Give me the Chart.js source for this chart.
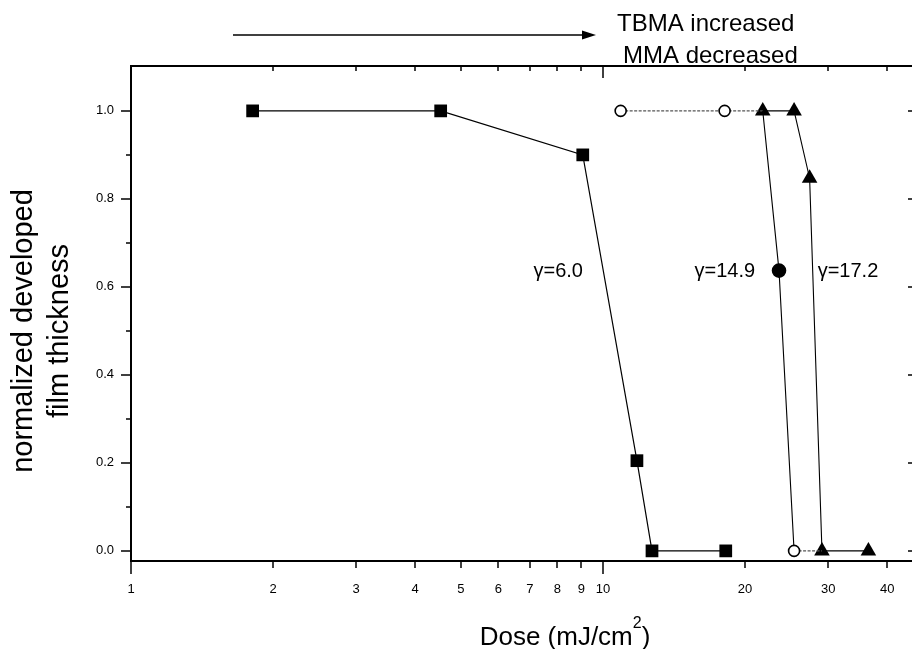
<!DOCTYPE html>
<html>
<head>
<meta charset="utf-8">
<script src="https://cdn.jsdelivr.net/npm/chart.js@4.4.1/dist/chart.umd.min.js"></script>
<style>
html, body { margin: 0; padding: 0; background: #fff; overflow: hidden; }
canvas { display: block; }
</style>
</head>
<body>
<canvas id="doseChart" width="912" height="649"></canvas>
<script>
// tick positions
const doseTicks = [1, 2, 3, 4, 5, 6, 7, 8, 9, 10, 20, 30, 40];
const thickTicks = [0, 0.2, 0.4, 0.6, 0.8, 1.0];
const thickMinor = [0.1, 0.3, 0.5, 0.7, 0.9];

// gamma = 6.0 (squares)
const sqDose = [1.81, 4.53, 9.06, 11.8, 12.7, 18.2];
const sqThick = [1.0, 1.0, 0.90, 0.205, 0.0, 0.0];

// gamma = 14.9 (circles)
const circDose = [10.9, 18.1, 21.8, 23.6, 25.4, 29.1];
const circThick = [1.0, 1.0, 1.0, 0.637, 0.0, 0.0];

// gamma = 17.2 (triangles)
const triDose = [21.8, 25.4, 27.4, 29.1, 36.5];
const triThick = [1.0, 1.0, 0.847, 0.0, 0.0];

const FONT = "'Liberation Sans', Arial, sans-serif";

function toPoints(xs, ys) {
    return xs.map((v, i) => ({ x: v, y: ys[i] }));
}

function line(ctx, x1, y1, x2, y2) {
    ctx.beginPath();
    ctx.moveTo(x1, y1);
    ctx.lineTo(x2, y2);
    ctx.stroke();
}

// axis frame with inside/outside ticks (right frame edge is off the picture)
const framePlugin = {
    id: 'frame',
    afterDraw(chart) {
        const { ctx, chartArea: a, scales: { x, y } } = chart;
        ctx.save();
        ctx.strokeStyle = '#000';
        ctx.lineWidth = 2;
        line(ctx, a.left, a.top, a.right + 2, a.top);
        line(ctx, a.left, a.bottom, a.right + 2, a.bottom);
        line(ctx, a.left, a.top - 1, a.left, a.bottom + 1);
        ctx.lineWidth = 1.5;
        doseTicks.forEach(v => {
            const px = Math.round(x.getPixelForValue(v));
            const big = v === 1 || v === 10;
            line(ctx, px, a.bottom, px, a.bottom + (big ? 13 : 7));
            line(ctx, px, a.top, px, a.top + (big ? 12 : 5));
        });
        thickTicks.forEach(v => {
            const py = Math.round(y.getPixelForValue(v));
            line(ctx, a.left - 10, py, a.left, py);
            line(ctx, a.right - 4, py, a.right, py);
        });
        thickMinor.forEach(v => {
            const py = Math.round(y.getPixelForValue(v));
            line(ctx, a.left - 5, py, a.left, py);
        });
        ctx.restore();
    }
};

// titles, gamma labels and arrow
const textPlugin = {
    id: 'texts',
    afterDraw(chart) {
        const { ctx, scales: { x, y } } = chart;
        ctx.save();
        ctx.fillStyle = '#000';
        ctx.strokeStyle = '#000';
        ctx.textBaseline = 'alphabetic';

        ctx.font = '20px ' + FONT;
        const gy = y.getPixelForValue(0.623);
        ctx.textAlign = 'right';
        ctx.fillText('\u03b3=6.0', x.getPixelForValue(9.07), gy);
        ctx.fillText('\u03b3=14.9', x.getPixelForValue(21.0), gy);
        ctx.textAlign = 'left';
        ctx.fillText('\u03b3=17.2', x.getPixelForValue(28.5), gy);

        // top note
        ctx.font = '24px ' + FONT;
        ctx.fillText('TBMA increased', 617, 31);
        ctx.fillText('MMA decreased', 623, 63);
        ctx.lineWidth = 1.6;
        line(ctx, 233, 35, 585, 35);
        ctx.beginPath();
        ctx.moveTo(596, 35);
        ctx.lineTo(582, 30.5);
        ctx.lineTo(582, 39.5);
        ctx.closePath();
        ctx.fill();

        // x title
        const main = '26px ' + FONT, sup = '16px ' + FONT;
        ctx.font = main;
        const w1 = ctx.measureText('Dose (mJ/cm').width;
        const w3 = ctx.measureText(')').width;
        ctx.font = sup;
        const w2 = ctx.measureText('2').width;
        const sx = 565 - (w1 + w2 + w3) / 2;
        ctx.font = main;
        ctx.fillText('Dose (mJ/cm', sx, 645);
        ctx.font = sup;
        ctx.fillText('2', sx + w1, 628);
        ctx.font = main;
        ctx.fillText(')', sx + w1 + w2, 645);

        // y title
        ctx.translate(0, 331);
        ctx.rotate(-Math.PI / 2);
        ctx.textAlign = 'center';
        ctx.font = '29px ' + FONT;
        ctx.fillText('normalized developed', 0, 32);
        ctx.fillText('film thickness', 0, 68);
        ctx.restore();
    }
};

const ctx = document.getElementById('doseChart').getContext('2d');

const doseChart = new Chart(ctx, {
    type: 'scatter',
    data: {
        datasets: [{
            label: 'gamma 6.0',
            data: toPoints(sqDose, sqThick),
            showLine: true,
            borderColor: '#000',
            borderWidth: 1.2,
            pointStyle: 'rect',
            pointRadius: 9,
            pointBackgroundColor: '#000',
            pointBorderColor: '#000',
            pointBorderWidth: 0
        }, {
            label: 'gamma 14.9',
            data: toPoints(circDose, circThick),
            showLine: true,
            borderColor: '#000',
            borderWidth: 1.1,
            segment: {
                borderColor: c => c.p0.parsed.y === c.p1.parsed.y ? '#555' : '#000',
                borderDash: c => c.p0.parsed.y === c.p1.parsed.y ? [3, 1.5] : undefined
            },
            pointStyle: 'circle',
            pointRadius: [5.5, 5.5, 0, 6.5, 5.5, 0],
            pointBackgroundColor: ['#fff', '#fff', '#fff', '#000', '#fff', '#fff'],
            pointBorderColor: '#000',
            pointBorderWidth: 1.6
        }, {
            label: 'gamma 17.2',
            data: toPoints(triDose, triThick),
            showLine: true,
            borderColor: '#000',
            borderWidth: 1.1,
            pointStyle: 'triangle',
            pointRadius: 9,
            pointBackgroundColor: '#000',
            pointBorderColor: '#000',
            pointBorderWidth: 0
        }]
    },
    options: {
        responsive: false,
        animation: false,
        devicePixelRatio: 1,
        layout: {
            autoPadding: false,
            padding: { top: 66, right: 0, bottom: 0, left: 0 }
        },
        plugins: {
            legend: { display: false },
            tooltip: { enabled: false }
        },
        scales: {
            x: {
                type: 'logarithmic',
                min: 1,
                max: 45.15,
                afterBuildTicks: s => { s.ticks = doseTicks.map(v => ({ value: v })); },
                afterFit: s => {
                    s.height = 88;
                    s.paddingLeft = 0;
                    s.paddingRight = 0;
                },
                grid: { display: false, drawTicks: false },
                border: { display: false },
                ticks: {
                    autoSkip: false,
                    maxRotation: 0,
                    padding: 21,
                    color: '#000',
                    font: { family: FONT, size: 13 },
                    callback: v => String(v)
                }
            },
            y: {
                min: -0.023,
                max: 1.102,
                afterBuildTicks: s => { s.ticks = thickTicks.map(v => ({ value: v })); },
                afterFit: s => { s.width = 131; },
                grid: { display: false, drawTicks: false },
                border: { display: false },
                ticks: {
                    padding: 17,
                    color: '#000',
                    font: { family: FONT, size: 13 },
                    callback: v => v.toFixed(1)
                }
            }
        }
    },
    plugins: [framePlugin, textPlugin]
});
</script>
</body>
</html>
